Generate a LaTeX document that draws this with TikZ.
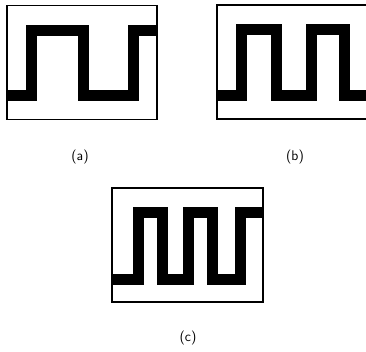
\documentclass[tikz,border=0pt]{standalone}
\usepackage{tikz}
\usetikzlibrary{positioning}

\begin{document}
\begin{tikzpicture}[
  x=1pt, y=-1pt,
  frame/.style={draw=black, line width=1.3pt, inner sep=0pt, minimum height=114pt},
  wave/.style={draw=black, line width=11pt, line cap=butt, line join=miter},
  caption/.style={font=\fontsize{14}{16}\sffamily}
]
\useasboundingbox (0,0) rectangle (366,351);

% Panel (a)
\node[frame, minimum width=150pt] (boxA) at (82,62.5) {};
\draw[wave] (7,95.5) -- (31.5,95.5) -- (31.5,30.5) -- (83.5,30.5) -- (83.5,95.5)
  -- (133.5,95.5) -- (133.5,30.5) -- (157,30.5);
\node[caption] (capA) at (80,157) {(a)};

% Panel (b)
\node[frame, minimum width=151pt] (boxB) at (292.5,62) {};
\draw[wave] (217,95) -- (241.5,95) -- (241.5,29) -- (276.5,29) -- (276.5,95)
  -- (311,95) -- (311,29) -- (344,29) -- (344,95) -- (366,95);
\node[caption] (capB) at (295,157) {(b)};

% Panel (c)
\node[frame, minimum width=151pt] (boxC) at (187.5,245) {};
\draw[wave] (112,279) -- (138.5,279) -- (138.5,212.5) -- (162,212.5) -- (162,279)
  -- (188,279) -- (188,212.5) -- (212.5,212.5) -- (212.5,279)
  -- (240,279) -- (240,212.5) -- (263,212.5);
\node[caption] (capC) at (188,338) {(c)};

\end{tikzpicture}
\end{document}
